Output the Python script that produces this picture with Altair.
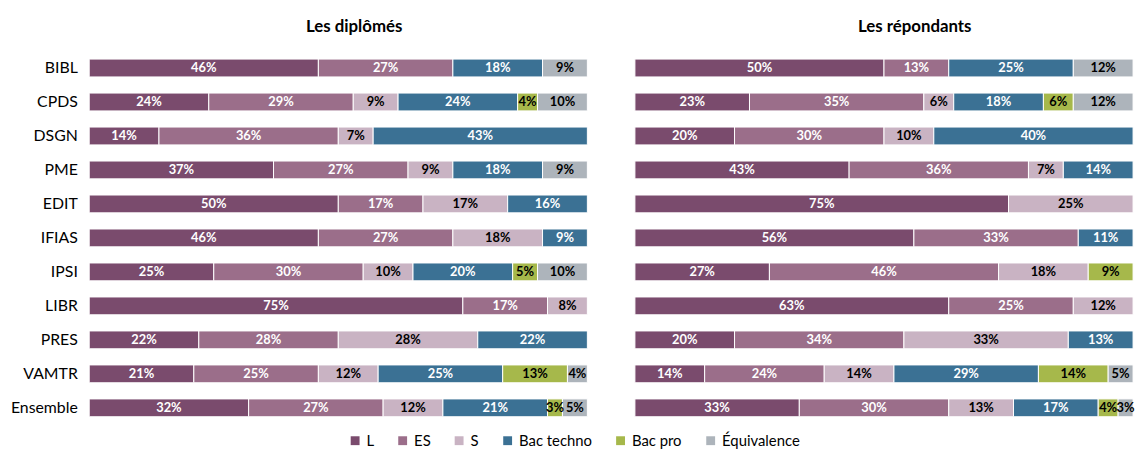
import altair as alt
import pandas as pd

programs = ["BIBL", "CPDS", "DSGN", "PME", "EDIT", "IFIAS", "IPSI", "LIBR", "PRES", "VAMTR", "Ensemble"]
categories = ["L", "ES", "S", "Bac techno", "Bac pro", "Équivalence"]
colors = ["#7a4b6d", "#9b6e8a", "#c9b3c3", "#3b7194", "#a6b84b", "#adb4bb"]
dark_text = ["S", "Bac pro", "Équivalence"]

# Les diplômés
dip_L = [46, 24, 14, 37, 50, 46, 25, 75, 22, 21, 32]
dip_ES = [27, 29, 36, 27, 17, 27, 30, 17, 28, 25, 27]
dip_S = [0, 9, 7, 9, 17, 18, 10, 8, 28, 12, 12]
dip_BT = [18, 24, 43, 18, 16, 9, 20, 0, 22, 25, 21]
dip_BP = [0, 4, 0, 0, 0, 0, 5, 0, 0, 13, 3]
dip_EQ = [9, 10, 0, 9, 0, 0, 10, 0, 0, 4, 5]

# Les répondants
rep_L = [50, 23, 20, 43, 75, 56, 27, 63, 20, 14, 33]
rep_ES = [13, 35, 30, 36, 0, 33, 46, 25, 34, 24, 30]
rep_S = [0, 6, 10, 7, 25, 0, 18, 12, 33, 14, 13]
rep_BT = [25, 18, 40, 14, 0, 11, 0, 0, 13, 29, 17]
rep_BP = [0, 6, 0, 0, 0, 0, 9, 0, 0, 14, 4]
rep_EQ = [12, 12, 0, 0, 0, 0, 0, 0, 0, 5, 3]


def build(series):
    rows = []
    for ci, (cat, vals) in enumerate(zip(categories, series)):
        for p, v in zip(programs, vals):
            if v > 0:
                rows.append({"prog": p, "cat": cat, "order": ci, "v": v})
    return pd.DataFrame(rows)


dip = build([dip_L, dip_ES, dip_S, dip_BT, dip_BP, dip_EQ])
rep = build([rep_L, rep_ES, rep_S, rep_BT, rep_BP, rep_EQ])

FONT = "Lato"


def panel(df, title, show_axis, dx):
    base = alt.Chart(df).transform_window(
        cum="sum(v)", groupby=["prog"], sort=[{"field": "order"}], frame=[None, 0]
    ).transform_calculate(
        start="datum.cum - datum.v",
        mid="datum.cum - datum.v / 2",
        label="datum.v + '%'",
        tc="indexof(%s, datum.cat) >= 0 ? 'black' : 'white'" % str(dark_text),
    )
    yenc = alt.Y(
        "prog:N",
        sort=programs,
        scale=alt.Scale(paddingInner=0.475, paddingOuter=0.1),
        axis=alt.Axis(
            title=None, domain=False, ticks=False, labelFontSize=16, labelFont=FONT,
            labelColor="black", labelPadding=12,
        ) if show_axis else None,
    )
    xscale = alt.Scale(domain=[0, 100], nice=False)
    bars = base.mark_bar(stroke="white", strokeWidth=1).encode(
        x=alt.X("start:Q", scale=xscale, axis=None),
        x2="cum:Q",
        y=yenc,
        color=alt.Color(
            "cat:N",
            scale=alt.Scale(domain=categories, range=colors),
            legend=alt.Legend(title=None, orient="none", legendX=261, legendY=381,
                              direction="horizontal"),
        ),
    )
    text = base.mark_text(fontSize=13, fontWeight="bold", font=FONT).encode(
        x=alt.X("mid:Q", scale=xscale, axis=None),
        y=yenc,
        text="label:N",
        color=alt.Color("tc:N", scale=None),
    )
    return alt.layer(bars, text).properties(
        width=503,
        height=368,
        title=alt.TitleParams(
            title, fontSize=17, fontWeight="bold", font=FONT, dx=dx, offset=20, color="black"
        ),
    )


left = panel(dip, "Les diplômés", True, 16)
right = panel(rep, "Les répondants", False, 31)

chart = alt.hconcat(left, right, spacing=46).resolve_scale(
    color="shared", y="shared"
).resolve_legend(color="shared").configure_view(stroke=None).configure_legend(
    symbolType="square",
    symbolSize=80,
    symbolStrokeWidth=0,
    labelFontSize=15,
    labelFont=FONT,
    labelColor="black",
    columnPadding=21,
    labelOffset=4,
    padding=0,
).properties(padding={"top": 8, "bottom": 0, "left": 2, "right": 5})

chart.save("out.html", embed_options={"renderer": "svg", "actions": False})
